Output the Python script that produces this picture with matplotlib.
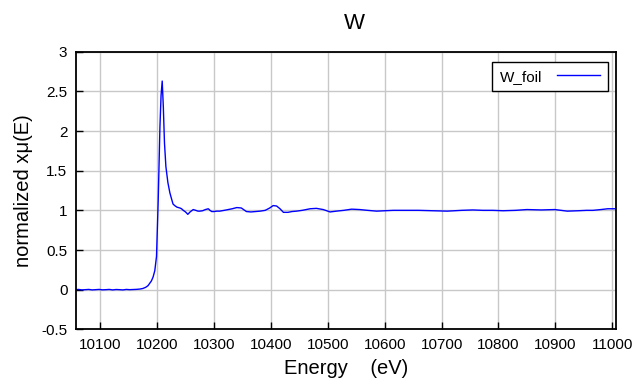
import matplotlib
matplotlib.use("Agg")
import matplotlib.pyplot as plt

plt.rcParams['font.family'] = ['Liberation Sans', 'DejaVu Sans']

energy = [10057, 10062, 10068, 10074, 10080, 10086, 10092, 10098, 10104, 10110,
          10116, 10122, 10128, 10134, 10140, 10146, 10152, 10158, 10164, 10170,
          10175, 10180, 10184, 10187, 10190, 10193, 10196, 10199, 10202, 10205,
          10207, 10209, 10211, 10213, 10215.5, 10219, 10222.5, 10226, 10228, 10231,
          10235, 10240, 10243, 10246, 10250, 10254, 10258, 10263.5, 10268, 10272,
          10275, 10280, 10285, 10290, 10293, 10296, 10300, 10305, 10310, 10318,
          10325, 10332, 10340, 10348, 10357, 10365, 10373, 10381, 10390, 10398,
          10404, 10410, 10416, 10422, 10430, 10437, 10445, 10455, 10469, 10480,
          10492, 10504, 10515, 10528, 10542, 10556, 10570, 10586, 10600, 10615,
          10639, 10660, 10685, 10710, 10735, 10755, 10773, 10790, 10808, 10830,
          10850, 10875, 10899, 10910, 10921, 10940, 10955, 10966, 10980, 10992,
          10998, 11005]
mu_norm = [0.00, 0.003, -0.003, 0.00, 0.003, -0.003, 0.00, 0.003, -0.002, 0.00,
           0.003, -0.003, 0.002, 0.00, -0.003, 0.003, 0.00, 0.002, 0.004, 0.008,
           0.015, 0.03, 0.05, 0.08, 0.11, 0.16, 0.24, 0.42, 1.13, 2.05,
           2.45, 2.63, 2.30, 1.85, 1.55, 1.35, 1.22, 1.13, 1.08, 1.06,
           1.04, 1.03, 1.02, 1.00, 0.98, 0.95, 0.98, 1.01, 1.00, 0.99,
           0.99, 0.995, 1.01, 1.02, 1.00, 0.985, 0.985, 0.99, 0.99, 1.00,
           1.01, 1.02, 1.035, 1.03, 0.985, 0.98, 0.985, 0.99, 1.00, 1.03,
           1.06, 1.055, 1.02, 0.975, 0.975, 0.985, 0.99, 1.00, 1.02, 1.025,
           1.01, 0.98, 0.99, 1.00, 1.015, 1.01, 1.00, 0.99, 0.995, 1.00,
           1.00, 1.00, 0.995, 0.99, 1.00, 1.005, 1.00, 1.00, 0.995, 1.00,
           1.01, 1.005, 1.01, 1.00, 0.99, 0.995, 1.00, 1.00, 1.01, 1.02,
           1.02, 1.02]

series_name = "W_foil"
title = "W"
xticks = [10100, 10200, 10300, 10400, 10500, 10600, 10700, 10800, 10900, 11000]
yticks = [-0.5, 0, 0.5, 1, 1.5, 2, 2.5, 3]
ytick_labels = ["-0.5", "0", "0.5", "1", "1.5", "2", "2.5", "3"]

fig = plt.figure(figsize=(6.4, 3.87), dpi=100)
ax = fig.add_axes([0.1183, 0.149, 0.9625 - 0.1183, 0.8664 - 0.149])

ax.plot(energy, mu_norm, color='#0000ff', lw=1.0, label=series_name)

ax.set_xlim(10057, 11006.5)
ax.set_ylim(-0.5, 3)
ax.set_xticks(xticks)
ax.set_xticklabels([str(t) for t in xticks])
ax.set_yticks(yticks)
ax.set_yticklabels(ytick_labels)
ax.grid(True, color='#c8c8c8', lw=1.0)
ax.set_axisbelow(True)
ax.tick_params(direction='in', length=5, width=1, labelsize=11, pad=6, colors='black')
for s in ax.spines.values():
    s.set_linewidth(1.3)
    s.set_color('black')

ax.set_xlabel("Energy    (eV)", fontsize=14.5, labelpad=5)
ax.set_ylabel("normalized xμ(E)", fontsize=14.5, labelpad=6)
fig.text(0.553, 0.94, title, fontsize=16, ha='center', va='center')

leg = ax.legend(loc='upper right', markerfirst=False, fontsize=11, frameon=True,
                fancybox=False, shadow=False, borderpad=0.5, handlelength=2.8,
                handletextpad=1.0, borderaxespad=0, bbox_to_anchor=(0.985, 0.963))
leg.get_frame().set_edgecolor('black')
leg.get_frame().set_linewidth(1.0)
leg.get_frame().set_alpha(1)

fig.savefig("out.png", dpi=100)
